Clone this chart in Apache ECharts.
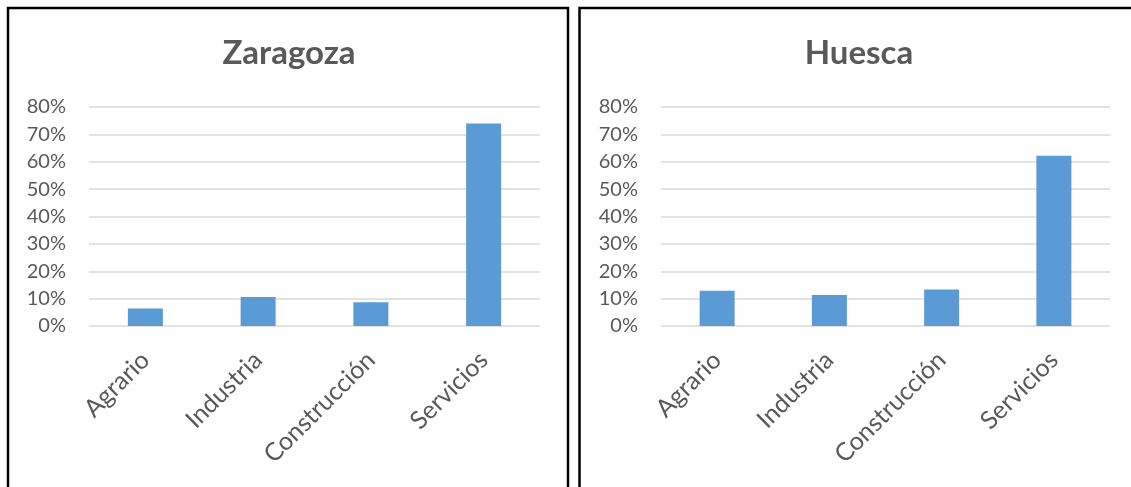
<!DOCTYPE html>
<html>
<head>
<meta charset="utf-8">
<title>Zaragoza / Huesca</title>
<script src="https://cdn.jsdelivr.net/npm/echarts@6/dist/echarts.min.js"></script>
<style>
  html, body { margin: 0; padding: 0; background: #fff; }
  #chart { width: 1131px; height: 487px; }
</style>
</head>
<body>
<div id="chart"></div>
<script>
// datos
const categories = ["Agrario", "Industria", "Construcción", "Servicios"];
const zaragoza = [6.4, 10.6, 8.7, 74.0];
const huesca = [12.9, 11.3, 13.3, 62.2];
const titles = ["Zaragoza", "Huesca"];
const yTicks = { min: 0, max: 80, interval: 10 };

const textColor = "#595959";
const barColor = "#5b9bd5";
const font = "Lato, 'Open Sans', sans-serif";

function xAxis(idx) {
  return {
    type: "category",
    gridIndex: idx,
    data: categories,
    axisLine: { show: false },
    axisTick: { show: false },
    axisLabel: {
      rotate: 45,
      margin: 30,
      color: textColor,
      fontSize: 25,
      fontFamily: font,
    },
  };
}

function yAxis(idx) {
  return {
    type: "value",
    gridIndex: idx,
    min: yTicks.min,
    max: yTicks.max,
    interval: yTicks.interval,
    axisLine: { show: false },
    axisTick: { show: false },
    splitLine: { lineStyle: { color: "#d9d9d9", width: 1.5 } },
    axisLabel: {
      formatter: "{value}%",
      margin: 23,
      color: textColor,
      fontSize: 20,
      fontFamily: font,
    },
  };
}

const options = {
  animation: false,
  backgroundColor: "#fff",
  title: [
    {
      text: titles[0],
      left: 284,
      top: 32,
      textAlign: "center",
      textStyle: { color: textColor, fontSize: 33, fontWeight: "bold", fontFamily: font },
    },
    {
      text: titles[1],
      left: 854,
      top: 32,
      textAlign: "center",
      textStyle: { color: textColor, fontSize: 33, fontWeight: "bold", fontFamily: font },
    },
  ],
  grid: [
    { left: 89, top: 107, width: 451, height: 219 },
    { left: 661, top: 107, width: 449, height: 219 },
  ],
  xAxis: [xAxis(0), xAxis(1)],
  yAxis: [yAxis(0), yAxis(1)],
  series: [
    {
      name: titles[0],
      type: "bar",
      xAxisIndex: 0,
      yAxisIndex: 0,
      barWidth: 35,
      data: zaragoza,
      itemStyle: { color: barColor },
    },
    {
      name: titles[1],
      type: "bar",
      xAxisIndex: 1,
      yAxisIndex: 1,
      barWidth: 35,
      data: huesca,
      itemStyle: { color: barColor },
    },
  ],
  // marcos negros de cada panel
  graphic: [
    {
      type: "rect",
      shape: { x: 8, y: 8, width: 560, height: 500 },
      style: { fill: "none", stroke: "#000", lineWidth: 2.5 },
      silent: true,
    },
    {
      type: "rect",
      shape: { x: 579.5, y: 8, width: 570, height: 500 },
      style: { fill: "none", stroke: "#000", lineWidth: 2.5 },
      silent: true,
    },
  ],
};

const chart = echarts.init(document.getElementById("chart"));
chart.setOption(options);

window.addEventListener("resize", () => {
  chart.resize();
});
</script>
</body>
</html>
